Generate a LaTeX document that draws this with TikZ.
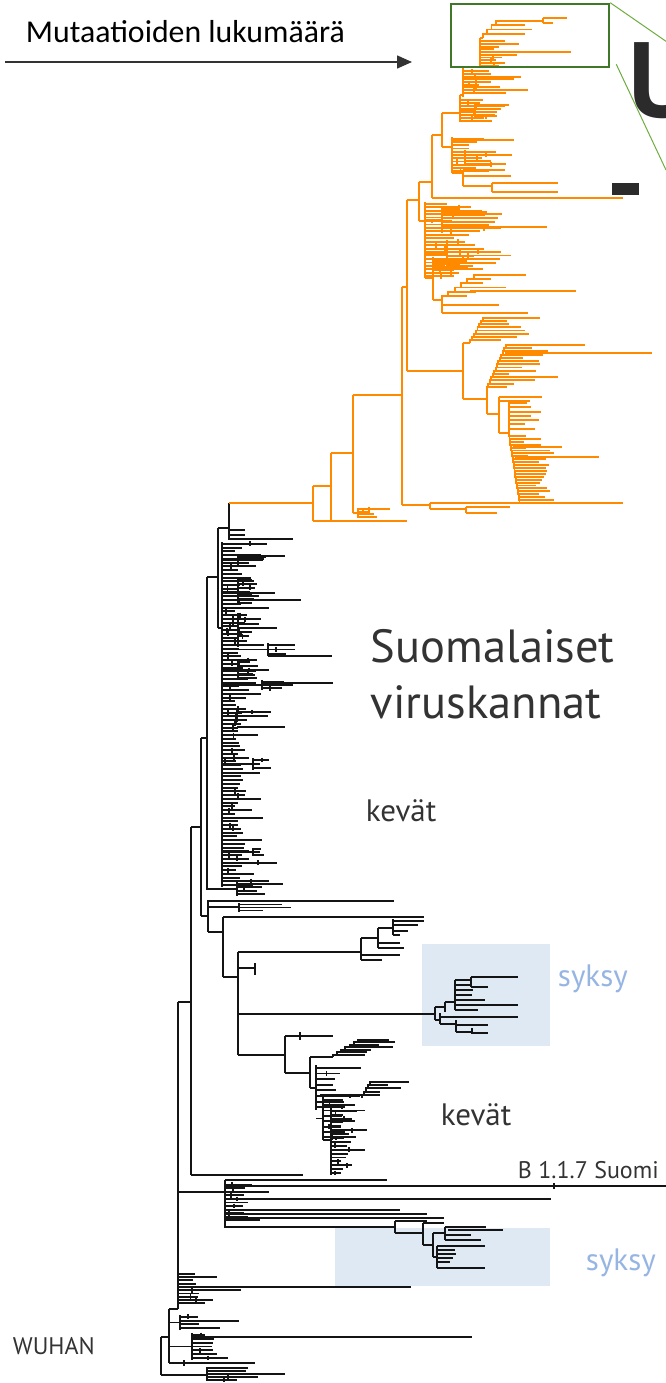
\documentclass[tikz,border=0pt]{standalone}
\usepackage{fontspec}
\usetikzlibrary{arrows.meta}
\newfontfamily\labelfont{PT Sans}
\newfontfamily\axisfont{Carlito}

\definecolor{treeorange}{RGB}{255,138,0}
\definecolor{treeblack}{RGB}{20,20,20}
\definecolor{syksybg}{RGB}{222,233,244}
\definecolor{syksyblue}{RGB}{150,181,226}
\definecolor{labelgrey}{RGB}{51,51,51}
\definecolor{titlegrey}{RGB}{43,43,43}
\definecolor{boxgreen}{RGB}{62,120,40}
\definecolor{linegreen}{RGB}{110,172,64}

% comb: x, y from, y to, leaves, length
\newcommand{\comb}[5]{%
  \draw (#1,#2) -- (#1,#3);
  \foreach \k in {1,...,#4}{%
    \pgfmathsetmacro\leafy{#2+(#3-#2)/#4*(\k-0.5)}%
    \pgfmathsetmacro\leafl{#5*(0.2+0.8*rnd*rnd)}%
    \pgfmathsetmacro\tickx{#1+\leafl*(0.2+0.6*rnd)}%
    \pgfmathsetmacro\tickh{(rnd<0.4)*2.4}%
    \draw (#1,\leafy) -- ++(\leafl,0) (\tickx,\leafy-\tickh) -- (\tickx,\leafy+\tickh);
  }%
}
% stair: x1, y1, x2, y2, leaves, length
\newcommand{\stair}[6]{%
  \foreach \k in {1,...,#5}{%
    \pgfmathsetmacro\stxa{#1+(#3-#1)/#5*(\k-1)}%
    \pgfmathsetmacro\stya{#2+(#4-#2)/#5*(\k-1)}%
    \pgfmathsetmacro\stxb{#1+(#3-#1)/#5*\k}%
    \pgfmathsetmacro\styb{#2+(#4-#2)/#5*\k}%
    \pgfmathsetmacro\leafl{#6*(0.3+0.7*rnd)}%
    \draw (\stxa,\stya) |- (\stxb,\styb) -- ++(\leafl,0);
  }%
}
% subclade: parent x, x, y from, y to, leaves, length
\newcommand{\subclade}[6]{%
  \pgfmathsetmacro\subym{(#3+#4)/2}%
  \draw (#1,\subym) -- (#2,\subym);
  \comb{#2}{#3}{#4}{#5}{#6}%
}

\tikzset{
  labeltext/.style={font=\labelfont\fontsize{31}{31}\selectfont, text=labelgrey, anchor=base west, inner sep=0pt},
  syksytext/.style={labeltext, text=syksyblue},
  bigtext/.style={labeltext, font=\labelfont\fontsize{46.5}{46.5}\selectfont},
  smalltext/.style={labeltext, font=\labelfont\fontsize{24}{24}\selectfont},
  axisarrow/.style={draw=labelgrey, line width=1.5pt, -{Triangle[length=15pt,width=13pt]}},
  zoombox/.style={draw=boxgreen, line width=2.5pt, minimum width=158pt, minimum height=63pt, inner sep=0pt},
  zoomline/.style={draw=linegreen, line width=1pt},
}

\begin{document}
\begin{tikzpicture}[x=1pt,y=-1pt,line width=1.9pt]
\useasboundingbox (0,0) rectangle (666,1383);
\pgfmathsetseed{7}

% autumn boxes
\fill[syksybg] (422,944) rectangle (550,1046);
\fill[syksybg] (335,1228) rectangle (550,1286);

% ---------- black tree
\begin{scope}[draw=treeblack]
% root
\draw (161,1337) -- (161,1375);
\draw (161,1337) -- (169,1337);
\draw (161,1375) -- (207,1375);
\comb{207}{1367}{1381}{5}{140}
\draw (169,1309) -- (169,1363);
\draw (169,1309) -- (178,1309);
\draw (169,1363) -- (255,1363);
\draw (184,1360) -- (184,1366);
\subclade{169}{192}{1333}{1360}{7}{60}
\draw (192,1337) -- (472,1337);
\subclade{169}{180}{1315}{1330}{4}{75}
% main trunk
\draw (178,1002) -- (178,1309);
\draw (178,1002) -- (191,1002);
\comb{178}{1272}{1305}{10}{75}
\draw (178,1287) -- (411,1287);
% B 1.1.7 clade
\draw (178,1192) -- (225,1192);
\draw (225,1180) -- (225,1227) -- (395,1227);
\comb{225}{1183}{1222}{11}{75}
\draw (225,1180) -- (387,1180);
\draw (225,1186) -- (666,1186);
\draw (554,1183) -- (554,1189);
\draw (225,1199) -- (551,1199);
\draw (225,1210) -- (400,1210);
\draw (225,1214) -- (427,1214);
\draw (225,1218) -- (444,1218);
% autumn clade 2
\draw (395,1221) -- (395,1233);
\draw (395,1221) -- (427,1221);
\draw (395,1233) -- (423,1233);
\draw (423,1223) -- (423,1245);
\draw (423,1223) -- (444,1223);
\draw (423,1245) -- (433,1245);
\draw (433,1233) -- (433,1257);
\draw (433,1233) -- (445,1233);
\draw (445,1227) -- (445,1240);
\draw (445,1227) -- (486,1227);
\draw (448,1230) -- (503,1230);
\draw (445,1235) -- (471,1235);
\draw (445,1240) -- (481,1240);
\draw (433,1257) -- (437,1257);
\draw (437,1246) -- (437,1268);
\foreach \yy/\xx in {1246/485,1250/455,1254/456,1258/453,1262/450,1268/485}
  \draw (437,\yy) -- (\xx,\yy);
% upper branches
\draw (191,827) -- (191,1175);
\draw (191,827) -- (201,827);
\draw (191,1175) -- (303,1175);
\draw (201,738) -- (201,916);
\draw (201,738) -- (207,738);
\draw (201,916) -- (208,916);
\draw (208,900) -- (208,932);
\draw (208,901) -- (394,901);
\draw (208,907) -- (239,907);
\comb{239}{903}{912}{3}{120}
\draw (208,932) -- (223,932);
\draw (223,917) -- (223,977);
\draw (223,917) -- (424,917);
\draw (223,977) -- (238,977);
\draw (238,952) -- (238,1055);
\draw (238,952) -- (361,952);
\draw (361,938) -- (361,960);
\draw (361,938) -- (378,938);
\draw (378,928) -- (378,948);
\draw (378,928) -- (393,928);
\draw (393,919) -- (393,935);
\foreach \yy/\xx in {921/424,925/418,931/408,935/400}
  \draw (393,\yy) -- (\xx,\yy);
\draw (378,943) -- (400,943);
\draw (378,948) -- (404,948);
\draw (361,955) -- (400,955);
\draw (361,960) -- (382,960);
\draw (238,968) -- (255,968);
\draw (255,963) -- (255,975);
% autumn clade 1
\draw (238,1014) -- (435,1014);
\draw (435,1007) -- (435,1020);
\draw (435,1007) -- (445,1007);
\draw (445,1002) -- (445,1012);
\draw (445,1002) -- (455,1002);
\draw (455,980) -- (455,1010);
\draw (455,980) -- (471,980);
\draw (471,977) -- (471,987);
\draw (471,977) -- (518,977);
\draw (471,987) -- (488,987);
\foreach \yy/\xx in {985/470,990/473,995/472,1000/485,1005/518,1010/478}
  \draw (455,\yy) -- (\xx,\yy);
\draw (435,1020) -- (440,1020);
\draw (440,1013) -- (440,1024);
\draw (440,1017) -- (518,1017);
\draw (440,1024) -- (456,1024);
\draw (456,1020) -- (456,1032);
\draw (456,1025) -- (488,1025);
\draw (456,1032) -- (472,1032);
\draw (472,1028) -- (472,1034);
\draw (472,1033) -- (488,1033);
% spring clade 2
\draw (238,1055) -- (285,1055);
\draw (285,1036) -- (285,1073);
\draw (285,1036) -- (333,1036);
\draw (300,1032) -- (300,1040);
\draw (285,1073) -- (310,1073);
\draw (310,1057) -- (310,1088);
\draw (310,1057) -- (333,1057);
\stair{333}{1057}{362}{1040}{7}{48}
\draw (310,1088) -- (316,1088);
\comb{316}{1065}{1110}{8}{75}
\draw (320,1095) -- (362,1095);
\stair{362}{1098}{372}{1082}{5}{42}
\subclade{316}{323}{1097}{1140}{8}{50}
\subclade{323}{331}{1105}{1175}{18}{45}
% spring clade 1
\draw (207,577) -- (207,890);
\draw (207,577) -- (218,577);
\subclade{207}{237}{882}{896}{4}{60}
\draw (218,528) -- (218,628);
\draw (218,528) -- (229,528);
\draw (229,503) -- (229,540);
\draw (229,530) -- (245,530);
\draw (229,535) -- (245,535);
\draw (229,539) -- (293,539);
\draw (218,628) -- (222,628);
\comb{222}{542}{887}{92}{65}
\subclade{222}{238}{555}{565}{3}{45}
\subclade{222}{238}{578}{605}{7}{50}
\subclade{222}{238}{613}{647}{8}{40}
\subclade{222}{268}{643}{656}{3}{60}
\subclade{222}{238}{660}{680}{5}{45}
\subclade{222}{262}{680}{690}{3}{65}
\subclade{222}{237}{710}{722}{3}{48}
\subclade{222}{253}{758}{770}{3}{30}
\subclade{222}{253}{848}{856}{3}{32}
\draw (238,556) -- (285,556);
\draw (238,600) -- (301,600);
\draw (268,656) -- (332,656);
\draw (262,683) -- (333,683);
\draw (237,727) -- (285,727);
\end{scope}

% ---------- orange tree
\begin{scope}[draw=treeorange]
\draw (229,503) -- (313,503);
\draw (313,486) -- (313,521);
\draw (313,486) -- (331,486);
\draw (313,521) -- (407,521);
\draw (331,453) -- (331,521);
\draw (331,453) -- (353,453);
\draw (353,395) -- (353,513);
\draw (353,395) -- (402,395);
\draw (353,513) -- (358,513);
\comb{358}{508}{518}{4}{48}
\draw (402,287) -- (402,505);
\draw (402,287) -- (407,287);
\draw (402,505) -- (430,505);
\draw (430,503) -- (430,509);
\draw (430,503) -- (623,503);
\draw (430,509) -- (466,509);
\draw (466,507) -- (466,513);
\draw (466,507) -- (510,507);
\draw (466,513) -- (497,513);
\draw (407,200) -- (407,371);
\draw (407,200) -- (419,200);
\draw (407,371) -- (463,371);
\draw (463,343) -- (463,399);
\draw (463,343) -- (470,343);
\stair{470}{343}{485}{318}{8}{65}
\draw (463,399) -- (487,399);
\draw (487,390) -- (487,414);
\stair{487}{390}{507}{345}{14}{45}
\draw (505,353) -- (652,353);
\draw (507,345) -- (585,345);
\draw (498,377) -- (558,377);
\draw (487,414) -- (499,414);
\draw (499,397) -- (499,433);
\draw (499,397) -- (542,397);
\draw (499,401) -- (530,401);
\draw (499,433) -- (509,433);
\stair{509}{433}{509}{403}{7}{32}
\stair{509}{433}{520}{503}{24}{45}
\draw (515,457) -- (599,457);
\draw (513,447) -- (562,447);
% upper part
\draw (419,182) -- (419,221);
\draw (419,182) -- (432,182);
\draw (419,221) -- (425,221);
\draw (432,135) -- (432,198);
\draw (432,198) -- (623,198);
\draw (432,135) -- (442,135);
\draw (442,113) -- (442,147);
\draw (442,113) -- (460,113);
\draw (442,147) -- (452,147);
\comb{452}{137}{173}{11}{85}
\subclade{452}{465}{150}{166}{5}{65}
\draw (452,140) -- (514,140);
\draw (452,173) -- (463,173);
\draw (463,170) -- (463,186);
\draw (463,170) -- (505,170);
\draw (463,176) -- (511,176);
\draw (463,186) -- (492,186);
\draw (492,183) -- (492,192);
\draw (492,183) -- (558,183);
\draw (492,192) -- (558,192);
\draw (460,95) -- (460,122);
\draw (460,95) -- (463,95);
\comb{460}{99}{122}{8}{80}
\subclade{460}{475}{103}{118}{4}{60}
\draw (463,67) -- (463,97);
\comb{463}{70}{94}{9}{65}
\draw (463,90) -- (528,90);
\draw (463,67) -- (480,67);
\draw (480,38) -- (480,67);
\comb{480}{40}{67}{10}{55}
\draw (480,52) -- (571,52);
\draw (480,38) -- (483,38);
\stair{483}{38}{500}{21}{4}{45}
\draw (500,21) -- (543,21);
\draw (543,18) -- (543,23);
\draw (543,18) -- (567,18);
\draw (543,23) -- (553,23);
\comb{425}{202}{278}{22}{95}
\subclade{425}{442}{207}{233}{8}{85}
\subclade{425}{447}{240}{268}{8}{80}
\draw (442,227) -- (547,227);
\draw (425,278) -- (433,278);
\draw (433,257) -- (433,300);
\comb{433}{259}{272}{4}{70}
\draw (433,300) -- (442,300);
\stair{442}{300}{480}{275}{6}{45}
\draw (470,291) -- (576,291);
\draw (480,275) -- (526,275);
\draw (442,300) -- (442,313);
\draw (442,305) -- (499,305);
\draw (442,313) -- (528,313);
\end{scope}

% ---------- zoom frame and title remains
\node[zoombox] (zoomframe) at (530,35.5) {};
\coordinate (zoomend1) at (667,42);
\coordinate (zoomend2) at (666,170);
\draw[zoomline] (zoomframe.north east) -- (zoomend1);
\draw[zoomline] ([xshift=6pt,yshift=4pt]zoomframe.south east) -- (zoomend2);
\node[labeltext, font=\labelfont\bfseries\fontsize{107}{107}\selectfont, text=titlegrey] (bigU) at (628,118) {U};
\fill[titlegrey] (612,183) rectangle (639,195);

% ---------- axis
\node[labeltext, font=\axisfont\fontsize{31.8}{31.8}\selectfont, text=black] (mutlabel) at (25,43) {Mutaatioiden lukumäärä};
\coordinate (arrowstart) at (5,62);
\coordinate (arrowend) at (412,62);
\draw[axisarrow] (arrowstart) -- (arrowend);

% ---------- labels
\node[bigtext] (suomi) at (370,662) {Suomalaiset};
\node[bigtext] (virus) at (370,718) {viruskannat};
\node[labeltext] (kevat1) at (365,821) {kevät};
\node[labeltext] (kevat2) at (440,1125) {kevät};
\node[syksytext] (syksy1) at (557,986) {syksy};
\node[syksytext] (syksy2) at (585,1270) {syksy};
\node[smalltext] (b117) at (517,1178) {B 1.1.7 Suomi};
\node[smalltext] (wuhan) at (12,1354) {WUHAN};
\end{tikzpicture}
\end{document}
